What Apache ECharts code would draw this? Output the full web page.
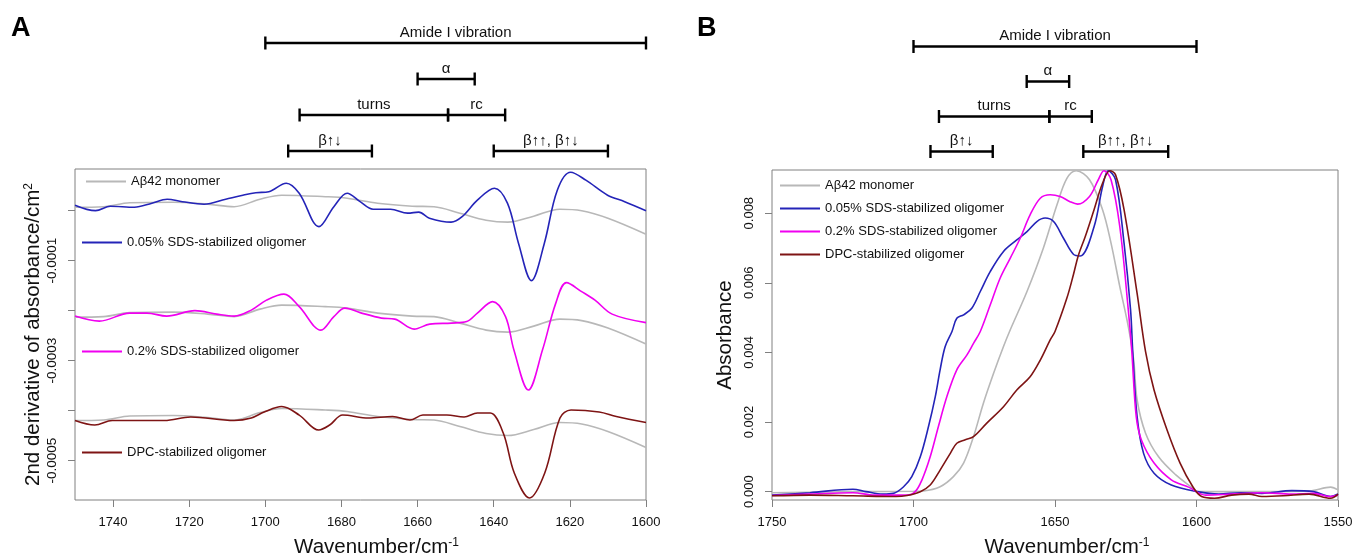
<!DOCTYPE html>
<html>
<head>
<meta charset="utf-8">
<script src="https://cdn.jsdelivr.net/npm/echarts@6.0.0/dist/echarts.min.js"></script>
<style>
  html, body { margin: 0; padding: 0; background: #fff; }
  #chart { width: 1356px; height: 558px; }
</style>
</head>
<body>
<div id="chart"></div>
<script>
// ---- data ----
const seriesNames = ['Aβ42 monomer', '0.05% SDS-stabilized oligomer', '0.2% SDS-stabilized oligomer', 'DPC-stabilized oligomer'];
const seriesColors = ['#b8b8b8', '#2424b8', '#f000f0', '#7e1414'];

// panel A: 2nd derivative spectra (offset for clarity)
const aMonoWn = [1750, 1742.5, 1735.6, 1724.2, 1715.1, 1708.2, 1701.4, 1695.7, 1684.2, 1678.5, 1670.5, 1661.4, 1655.7, 1648.9, 1642, 1636.3, 1629.5, 1622.6, 1616.9, 1610, 1600];
const aMonoVal = [0.7e-5, 0.8e-5, 1.6e-5, 1.7e-5, 1.3e-5, 0.8e-5, 2.3e-5, 3.1e-5, 2.8e-5, 2.5e-5, 1.5e-5, 0.9e-5, 0.8e-5, -0.5e-5, -1.9e-5, -2.3e-5, -1.1e-5, 0.3e-5, 0, -1.5e-5, -4.7e-5];
const aMonoOffsets = [0, -22e-5, -42.7e-5];

const aSds005Wn = [1750, 1744.6, 1740.7, 1734.4, 1729.8, 1725.8, 1721.8, 1716.1, 1710.4, 1705.9, 1702.5, 1699.1, 1694.5, 1691.1, 1685.9, 1682, 1678.5, 1675.1, 1671.7, 1667.1, 1662.6, 1659.7, 1656.9, 1651.2, 1648.3, 1644.3, 1639.8, 1636.4, 1633.5, 1630.1, 1626.7, 1623.3, 1619.8, 1615.8, 1610.1, 1605.6, 1600];
const aSds005Val = [1.1e-5, 0, 0.9e-5, 0.7e-5, 1.5e-5, 2.3e-5, 1.8e-5, 1.3e-5, 2.3e-5, 3.1e-5, 3.6e-5, 3.8e-5, 5.5e-5, 3.5e-5, -3.2e-5, 0.8e-5, 3.5e-5, 1.8e-5, 0.3e-5, 0.3e-5, -0.5e-5, -0.3e-5, -1.5e-5, -2.3e-5, -1.2e-5, 2.1e-5, 4.5e-5, 1.5e-5, -6.5e-5, -14e-5, -6.5e-5, 4.1e-5, 7.7e-5, 6.1e-5, 3.1e-5, 1.8e-5, 0];

const aSds02Wn = [1750, 1743.6, 1735.6, 1731.1, 1725.9, 1718.5, 1712.8, 1708.2, 1703.7, 1699.7, 1695.1, 1691.1, 1685.4, 1682, 1679.1, 1675.1, 1669.5, 1666, 1660.9, 1656.8, 1651.1, 1647.1, 1644.3, 1640.3, 1636.9, 1634.7, 1630.9, 1627.2, 1623.7, 1620.9, 1616.9, 1613.4, 1608.9, 1600];
const aSds02Val = [-21.1e-5, -22.1e-5, -20.5e-5, -20.5e-5, -21.1e-5, -20e-5, -20.7e-5, -21.1e-5, -19.9e-5, -17.9e-5, -16.7e-5, -19.2e-5, -23.9e-5, -21.2e-5, -19.5e-5, -20.4e-5, -21.5e-5, -21.7e-5, -23.7e-5, -22.7e-5, -22.5e-5, -22.2e-5, -20.5e-5, -18.2e-5, -21.2e-5, -27.9e-5, -35.9e-5, -27.9e-5, -18.5e-5, -14.4e-5, -16.2e-5, -17.9e-5, -20.7e-5, -22.4e-5];

const aDpcWn = [1750, 1744.8, 1740.2, 1726.5, 1719.6, 1708.2, 1703.7, 1700.3, 1695.7, 1691.1, 1686, 1683.1, 1679.7, 1672.9, 1666.6, 1662, 1658.6, 1652.3, 1647.8, 1644.3, 1640.9, 1637.5, 1634.6, 1630.6, 1626.6, 1622.6, 1619.7, 1612.3, 1607.8, 1600];
const aDpcVal = [-42e-5, -42.9e-5, -42e-5, -42e-5, -41.3e-5, -42e-5, -41.5e-5, -40.3e-5, -39.2e-5, -40.9e-5, -43.9e-5, -42.9e-5, -40.9e-5, -41.5e-5, -41.2e-5, -41.9e-5, -40.9e-5, -40.9e-5, -41.3e-5, -40.5e-5, -40.5e-5, -44.5e-5, -52.5e-5, -57.5e-5, -52.5e-5, -41.5e-5, -39.9e-5, -40.3e-5, -41.2e-5, -42.4e-5];

// panel B: absorbance spectra
const bMonoWn = [1750, 1720, 1700, 1696.5, 1690.6, 1685.9, 1682.3, 1678.8, 1675.3, 1671.7, 1668.2, 1665.8, 1659.9, 1654.1, 1649.3, 1645.8, 1642.5, 1637.8, 1633.2, 1630.2, 1627.1, 1624.1, 1622.2, 1621, 1618, 1613.4, 1607.3, 1601.3, 1599.7, 1580, 1560, 1552.6, 1550];
const bMonoVal = [-0.00003, 0, 0.00001, 0.00002, 0.00014, 0.00043, 0.00082, 0.00158, 0.00254, 0.0034, 0.00417, 0.00465, 0.00575, 0.007, 0.00824, 0.009, 0.00922, 0.00896, 0.0081, 0.00714, 0.00589, 0.00474, 0.00378, 0.00264, 0.00168, 0.001, 0.00048, 0.0001, 0, 0, 0.00002, 0.00013, 0.00005];

const bSds005Wn = [1750, 1736.6, 1721.4, 1716.8, 1710.8, 1707.1, 1703.5, 1700.6, 1697.6, 1694.7, 1692.3, 1690.6, 1688.8, 1686.4, 1684.7, 1682.3, 1679.4, 1676.4, 1672.9, 1668.2, 1663.5, 1659.9, 1656.4, 1653.5, 1650.5, 1647, 1643.5, 1641.1, 1636.2, 1633.2, 1631.2, 1628.6, 1625.6, 1623.3, 1622.5, 1621, 1618.7, 1615, 1608.9, 1599.7, 1592.1, 1584.5, 1576.9, 1566.3, 1558.7, 1552.6, 1550];
const bSds005Val = [-0.0001, -0.00003, 0.00007, 0, -0.00007, -0.00005, 0.00014, 0.00043, 0.001, 0.00187, 0.00273, 0.0035, 0.00417, 0.0046, 0.00498, 0.00508, 0.00527, 0.00575, 0.00632, 0.0069, 0.00723, 0.00747, 0.00776, 0.00786, 0.00776, 0.00728, 0.00682, 0.00677, 0.00761, 0.00876, 0.00922, 0.00896, 0.00714, 0.00522, 0.00398, 0.00216, 0.0011, 0.00053, 0.00019, 0, -0.00007, -0.00003, -0.00005, 0.00003, 0, -0.00014, -0.00007];

const bSds02Wn = [1750, 1736.6, 1721.4, 1713.8, 1702.3, 1699.4, 1697, 1694.1, 1691.2, 1688.2, 1684.7, 1681.1, 1678.8, 1676.4, 1672.9, 1669.4, 1665.8, 1662.3, 1658.8, 1655.2, 1651.7, 1648.2, 1644.7, 1642, 1637.8, 1634.7, 1632.7, 1630.2, 1627.1, 1624.1, 1622.9, 1621.3, 1619.5, 1615, 1608.9, 1602.8, 1596.7, 1587.6, 1576.9, 1566.3, 1558.7, 1552.6, 1550];
const bSds02Val = [-0.00011, -0.00007, -0.00003, -0.0001, -0.0001, 0, 0.00034, 0.001, 0.00187, 0.00273, 0.0035, 0.00393, 0.00426, 0.0046, 0.00536, 0.00613, 0.00671, 0.00728, 0.00795, 0.00843, 0.00853, 0.00848, 0.00833, 0.00826, 0.00848, 0.00896, 0.00922, 0.00896, 0.00761, 0.00522, 0.00407, 0.00216, 0.00149, 0.00082, 0.00034, 0.00013, -0.0001, -0.00007, -0.00003, -0.00007, -0.00005, -0.00014, -0.0001];

const bDpcWn = [1750, 1736.6, 1721.4, 1706.2, 1702.3, 1697.6, 1694.1, 1690.6, 1687, 1684.7, 1681.7, 1678.8, 1674.1, 1668.2, 1663.5, 1658.8, 1655.2, 1651.7, 1650, 1645.8, 1643.5, 1641.7, 1639.3, 1636.2, 1633.2, 1630.6, 1628.6, 1625.6, 1621, 1618, 1615, 1610.4, 1605.8, 1601.3, 1598.2, 1593.6, 1587.6, 1581.5, 1576.9, 1569.3, 1560.2, 1552.6, 1550];
const bDpcVal = [-0.00012, -0.0001, -0.00012, -0.00014, -0.00011, 0, 0.00019, 0.00062, 0.0011, 0.00139, 0.00149, 0.00158, 0.00197, 0.00244, 0.00292, 0.0033, 0.00378, 0.00436, 0.0046, 0.00556, 0.00623, 0.0068, 0.00733, 0.0081, 0.00886, 0.00922, 0.0091, 0.0081, 0.0057, 0.00402, 0.00292, 0.00177, 0.00082, 0.00014, -0.00014, -0.00019, -0.0001, -0.00007, -0.00014, -0.00012, -0.00007, -0.00019, -0.00007];

// axis ticks
const aXTicks = [1740, 1720, 1700, 1680, 1660, 1640, 1620, 1600];
const aYTicks = [0, -0.0001, -0.0002, -0.0003, -0.0004, -0.0005];
const aYLabels = [-0.0001, -0.0003, -0.0005];
const bXTicks = [1750, 1700, 1650, 1600, 1550];
const bYTicks = [0, 0.002, 0.004, 0.006, 0.008];

// band assignment brackets above both panels
const annotRows = ['amide', 'alpha', 'turns', 'beta'];
const annotLabels = ['Amide I vibration', 'α', 'turns', 'rc', 'β↑↓', 'β↑↑, β↑↓'];
const annotFrom = [1700, 1660, 1691, 1652, 1694, 1640];
const annotTo = [1600, 1645, 1652, 1637, 1672, 1610];
const annotRow = [0, 1, 2, 2, 3, 3];

// ---- chart ----
const FONT = "'Liberation Sans', Arial, Helvetica, sans-serif";
const FRAME = '#808080';

const zip = (xs, ys) => xs.map((x, i) => [x, ys[i]]);

function lineSeries(name, color, data, idx) {
  return {
    type: 'line', name, data,
    xAxisIndex: idx, yAxisIndex: idx,
    symbol: 'none', smooth: 0.35,
    lineStyle: { color, width: 1.6 },
    itemStyle: { color },
    emphasis: { disabled: true },
    animation: false
  };
}

function renderBracket(params, api) {
  const p1 = api.coord([api.value(0), api.value(2)]);
  const p2 = api.coord([api.value(1), api.value(2)]);
  const cap = 6.5;
  const stroke = { stroke: '#000', lineWidth: 2.4 };
  return {
    type: 'group',
    children: [
      { type: 'line', shape: { x1: p1[0], y1: p1[1], x2: p2[0], y2: p2[1] }, style: stroke },
      { type: 'line', shape: { x1: p1[0], y1: p1[1] - cap, x2: p1[0], y2: p1[1] + cap }, style: stroke },
      { type: 'line', shape: { x1: p2[0], y1: p2[1] - cap, x2: p2[0], y2: p2[1] + cap }, style: stroke },
      {
        type: 'text',
        style: {
          text: annotLabels[params.dataIndex],
          x: (p1[0] + p2[0]) / 2, y: p1[1] - 3,
          align: 'center', verticalAlign: 'bottom',
          font: '15px ' + FONT, fill: '#111'
        }
      }
    ]
  };
}

function bracketSeries(idx) {
  return {
    type: 'custom',
    xAxisIndex: idx, yAxisIndex: idx,
    renderItem: renderBracket,
    data: annotFrom.map((f, i) => [f, annotTo[i], annotRow[i]]),
    encode: { x: [0, 1], y: 2 },
    silent: true,
    animation: false
  };
}

function legendAt(names, left, top, extra) {
  return Object.assign({
    data: names, left, top, padding: 0,
    icon: 'rect', itemWidth: 40, itemHeight: 2, itemGap: 10,
    selectedMode: false,
    textStyle: { fontSize: 13, color: '#111', fontFamily: FONT }
  }, extra || {});
}

const tickLabelStyle = { color: '#111', fontFamily: FONT };
const xName = '{m|Wavenumber/cm}{s|-1}';
const nameRich = {
  m: { fontSize: 20.5, fontFamily: FONT, color: '#111' },
  s: { fontSize: 12, fontFamily: FONT, color: '#111', verticalAlign: 'top' }
};

// plot boxes are fixed; do not let the grids shrink to fit their labels
const gridA = { left: 75, top: 169, width: 571, height: 331, outerBoundsMode: 'none', containLabel: false };
const gridB = { left: 772, top: 170, width: 566, height: 330, outerBoundsMode: 'none', containLabel: false };

const option = {
  backgroundColor: '#fff',
  title: [
    { text: 'A', left: 11, top: 15, padding: 0, textStyle: { fontSize: 27, fontWeight: 'bold', color: '#000', fontFamily: FONT } },
    { text: 'B', left: 697, top: 15, padding: 0, textStyle: { fontSize: 27, fontWeight: 'bold', color: '#000', fontFamily: FONT } }
  ],
  legend: [
    legendAt([seriesNames[0]], 86, 175),
    legendAt([seriesNames[1]], 82, 236),
    legendAt([seriesNames[2]], 82, 345),
    legendAt([seriesNames[3]], 82, 446),
    legendAt(seriesNames, 780, 179, { orient: 'vertical' })
  ],
  grid: [
    Object.assign({ show: true, borderColor: FRAME, borderWidth: 1 }, gridA),
    Object.assign({ show: true, borderColor: FRAME, borderWidth: 1 }, gridB),
    { left: gridA.left, width: gridA.width, top: 25, height: 144, outerBoundsMode: 'none' },
    { left: gridB.left, width: gridB.width, top: 29, height: 140, outerBoundsMode: 'none' }
  ],
  xAxis: [
    {
      gridIndex: 0, type: 'value', min: 1600, max: 1750, inverse: true,
      axisLine: { show: false, onZero: false }, splitLine: { show: false },
      axisTick: { length: 7, lineStyle: { color: FRAME }, customValues: aXTicks },
      axisLabel: Object.assign({ fontSize: 13, margin: 16, customValues: aXTicks, formatter: v => String(v) }, tickLabelStyle),
      name: xName, nameLocation: 'middle', nameGap: 37,
      nameTextStyle: { rich: nameRich, padding: [0, 0, 0, 32] }
    },
    {
      gridIndex: 1, type: 'value', min: 1550, max: 1750, inverse: true,
      axisLine: { show: false, onZero: false }, splitLine: { show: false },
      axisTick: { length: 7, lineStyle: { color: FRAME }, customValues: bXTicks },
      axisLabel: Object.assign({ fontSize: 13, margin: 16, customValues: bXTicks, formatter: v => String(v) }, tickLabelStyle),
      name: xName, nameLocation: 'middle', nameGap: 37,
      nameTextStyle: { rich: nameRich, padding: [0, 0, 0, 24] }
    },
    { gridIndex: 2, type: 'value', min: 1600, max: 1750, inverse: true, show: false },
    { gridIndex: 3, type: 'value', min: 1550, max: 1750, inverse: true, show: false }
  ],
  yAxis: [
    {
      gridIndex: 0, type: 'value', min: -0.000579, max: 0.0000834,
      axisLine: { show: false, onZero: false }, splitLine: { show: false },
      axisTick: { length: 7, lineStyle: { color: FRAME }, customValues: aYTicks },
      axisLabel: Object.assign({
        fontSize: 13.5, margin: 16, rotate: 90, align: 'center', verticalAlign: 'bottom',
        customValues: aYLabels, formatter: v => v.toFixed(4)
      }, tickLabelStyle),
      name: '{m|2nd derivative of absorbance/cm}{s|2}', nameLocation: 'middle', nameGap: 31,
      nameTextStyle: { rich: nameRich }
    },
    {
      gridIndex: 1, type: 'value', min: -0.00024, max: 0.00924,
      axisLine: { show: false, onZero: false }, splitLine: { show: false },
      axisTick: { length: 7, lineStyle: { color: FRAME }, customValues: bYTicks },
      axisLabel: Object.assign({
        fontSize: 13, margin: 16, rotate: 90, align: 'center', verticalAlign: 'bottom',
        customValues: bYTicks, formatter: v => v.toFixed(3)
      }, tickLabelStyle),
      name: '{m|Absorbance}', nameLocation: 'middle', nameGap: 36,
      nameTextStyle: { rich: nameRich }
    },
    { gridIndex: 2, type: 'category', data: annotRows, inverse: true, show: false },
    { gridIndex: 3, type: 'category', data: annotRows, inverse: true, show: false }
  ],
  series: [
    // panel A: monomer reference drawn behind each oligomer trace
    ...aMonoOffsets.map(off => lineSeries(seriesNames[0], seriesColors[0], aMonoWn.map((w, i) => [w, aMonoVal[i] + off]), 0)),
    lineSeries(seriesNames[1], seriesColors[1], zip(aSds005Wn, aSds005Val), 0),
    lineSeries(seriesNames[2], seriesColors[2], zip(aSds02Wn, aSds02Val), 0),
    lineSeries(seriesNames[3], seriesColors[3], zip(aDpcWn, aDpcVal), 0),
    // panel B
    lineSeries(seriesNames[0], seriesColors[0], zip(bMonoWn, bMonoVal), 1),
    lineSeries(seriesNames[1], seriesColors[1], zip(bSds005Wn, bSds005Val), 1),
    lineSeries(seriesNames[2], seriesColors[2], zip(bSds02Wn, bSds02Val), 1),
    lineSeries(seriesNames[3], seriesColors[3], zip(bDpcWn, bDpcVal), 1),
    // brackets
    bracketSeries(2),
    bracketSeries(3)
  ]
};

const myChart = echarts.init(document.getElementById('chart'), null, { renderer: 'canvas' });
myChart.setOption(option);
</script>
</body>
</html>
